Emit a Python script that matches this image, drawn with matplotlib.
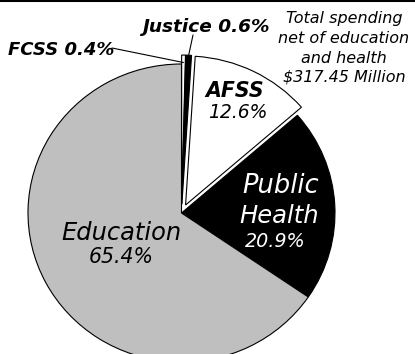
import numpy as np
import matplotlib
matplotlib.use("Agg")
import matplotlib.pyplot as plt
from matplotlib.lines import Line2D

# Spending shares (percent), clockwise from 12 o'clock
names = ["FCSS", "Justice", "AFSS", "Public Health", "Education"]
shares = [0.4, 0.6, 12.6, 20.9, 65.4]
colors = ["white", "black", "white", "black", "#bfbfbf"]
explode = [0.06, 0.06, 0.06, 0.0, 0.0]  # as a fraction of the radius
note_lines = ["Total spending", "net of education", "and health", "$317.45 Million"]

W, H = 415, 354
fig = plt.figure(figsize=(W / 100, H / 100), dpi=100)
ax = fig.add_axes([0, 0, 1, 1])

# slightly flattened pie: x units are pixels, y units are stretched
rx, ry = 153.5, 149.0
k = rx / ry

cx, cy = 181.5, (H - 213) * k
wedges, _ = ax.pie(shares, colors=colors, explode=[e * rx for e in explode],
                   startangle=90, counterclock=False, radius=rx,
                   center=(cx, cy),
                   wedgeprops=dict(edgecolor="black", linewidth=0.8),
                   frame=True)
ax.set_aspect("auto")
ax.set_xlim(0, W)
ax.set_ylim(0, H * k)
ax.set_axis_off()


def fp(x, y):
    """figure-fraction position from pixel position measured from the top"""
    return x / W, 1 - y / H


def wedge_point(w, frac_r, frac_t=0.5):
    t = np.deg2rad(w.theta1 + (w.theta2 - w.theta1) * frac_t)
    c = w.center
    return c[0] + w.r * frac_r * np.cos(t), c[1] + w.r * frac_r * np.sin(t)


tf = fig.transFigure

# top rule
fig.add_artist(Line2D([0, 1], [1 - 1 / H, 1 - 1 / H], transform=tf,
                      color="black", linewidth=1.5))

# small slices: labels with leader lines
fcss, justice, afss, health, edu = wedges
fig.text(*fp(8, 55), f"{names[0]} {shares[0]}%", transform=tf, ha="left",
         va="baseline", fontsize=13, fontweight="bold", fontstyle="oblique")
ax.annotate("", xy=wedge_point(fcss, 0.95, 0.5), xytext=(112, H - 48),
            textcoords="figure pixels",
            arrowprops=dict(arrowstyle="-", lw=0.8, color="black",
                            shrinkA=0, shrinkB=0))

fig.text(*fp(205.5, 32), f"{names[1]} {shares[1]}%", transform=tf,
         ha="center", va="baseline", fontsize=13.3, fontweight="bold",
         fontstyle="oblique")
ax.annotate("", xy=wedge_point(justice, 1.0, 0.5), xytext=(193, H - 35),
            textcoords="figure pixels",
            arrowprops=dict(arrowstyle="-", lw=0.8, color="black",
                            shrinkA=0, shrinkB=0))

# note block
for line, base in zip(note_lines, [23, 43, 63, 82]):
    fig.text(*fp(344, base), line, transform=tf, ha="center", va="baseline",
             fontsize=11.5, fontstyle="oblique")

# slice labels
fig.text(*fp(234.5, 97), names[2], transform=tf, ha="center", va="baseline",
         fontsize=14.8, fontweight="bold", fontstyle="oblique")
fig.text(*fp(238, 118), f"{shares[2]}%", transform=tf, ha="center",
         va="baseline", fontsize=13.5, fontstyle="oblique")

pub, hea = names[3].split()
fig.text(*fp(280.5, 193), pub, transform=tf, ha="center", va="baseline",
         fontsize=18.5, fontstyle="oblique", color="white")
fig.text(*fp(279, 223), hea, transform=tf, ha="center", va="baseline",
         fontsize=17.5, fontstyle="oblique", color="white")
fig.text(*fp(275, 247), f"{shares[3]}%", transform=tf, ha="center",
         va="baseline", fontsize=13.8, fontstyle="oblique", color="white")

fig.text(*fp(121.5, 240), names[4], transform=tf, ha="center", va="baseline",
         fontsize=17.4, fontstyle="oblique")
fig.text(*fp(121.5, 263), f"{shares[4]}%", transform=tf, ha="center",
         va="baseline", fontsize=14.8, fontstyle="oblique")

fig.savefig("out.png", dpi=100, facecolor="white")
